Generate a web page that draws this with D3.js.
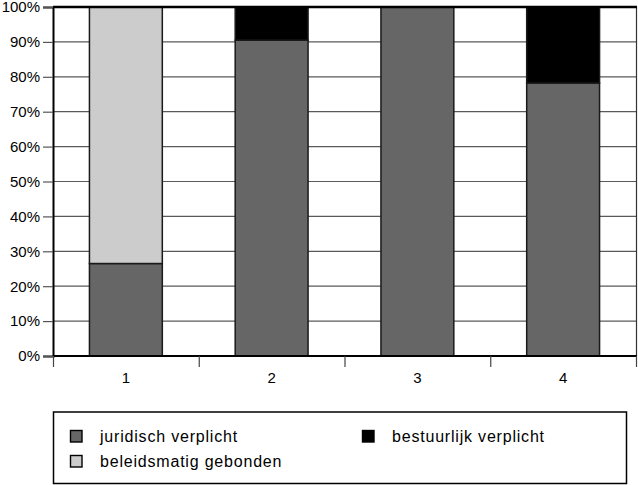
<!DOCTYPE html>
<html>
<head>
<meta charset="utf-8">
<script src="https://cdn.jsdelivr.net/npm/d3@7"></script>
<style>
  body { margin: 0; background: #fff; }
  text { font-family: "Liberation Sans", Arial, sans-serif; }
</style>
</head>
<body>
<div id="chart"></div>
<script>
// chart size and plot margins
const width = 638;
const height = 485;
const margin = {left: 53, right: 2, top: 7, bottom: 129};

// data (percent of each bar)
const categories = ["1", "2", "3", "4"];
const juridisch = [26.5, 90.5, 100, 78.2];
const beleidsmatig = [73.5, 0, 0, 0];
const bestuurlijk = [0, 9.5, 0, 21.8];
const yTicks = [0, 10, 20, 30, 40, 50, 60, 70, 80, 90, 100];

const seriesNames = ["juridisch verplicht", "beleidsmatig gebonden", "bestuurlijk verplicht"];
const seriesColors = ["#666666", "#cccccc", "#000000"];

const svg = d3.select("#chart")
  .append("svg")
  .attr("width", width)
  .attr("height", height);

// scales
const xScale = d3.scaleBand()
  .domain(categories)
  .range([margin.left, width - margin.right])
  .paddingInner(0.5)
  .paddingOuter(0.25);

const xOuter = d3.scaleBand()
  .domain(categories)
  .range([margin.left, width - margin.right]);

const yScale = d3.scaleLinear()
  .domain([0, 100])
  .range([height - margin.bottom, margin.top]);

// gridlines
svg.append("g")
  .selectAll("line")
  .data(yTicks.slice(1, -1))
  .join("line")
    .attr("x1", margin.left)
    .attr("x2", width - margin.right)
    .attr("y1", d => yScale(d))
    .attr("y2", d => yScale(d))
    .attr("stroke", "#5a5a5a")
    .attr("stroke-width", 1.2);

// right border of the plot
svg.append("line")
  .attr("x1", width - margin.right + 0.5)
  .attr("x2", width - margin.right + 0.5)
  .attr("y1", margin.top)
  .attr("y2", height - margin.bottom)
  .attr("stroke", "#333")
  .attr("stroke-width", 1.2);

// stacked bars
const stackData = categories.map((c, i) => ({
  cat: c, j: juridisch[i], b: beleidsmatig[i], s: bestuurlijk[i]
}));
const stack = d3.stack().keys(["j", "b", "s"]);
const layers = stack(stackData);

svg.append("g")
  .selectAll("g")
  .data(layers)
  .join("g")
    .attr("fill", (d, i) => seriesColors[i])
  .selectAll("rect")
  .data(d => d.filter(p => p[1] - p[0] > 0))
  .join("rect")
    .attr("x", d => xScale(d.data.cat))
    .attr("y", d => yScale(d[1]))
    .attr("width", xScale.bandwidth())
    .attr("height", d => yScale(d[0]) - yScale(d[1]))
    .attr("stroke", "#1a1a1a")
    .attr("stroke-width", 1.5);

// top line
svg.append("line")
  .attr("x1", margin.left)
  .attr("x2", width - margin.right + 1)
  .attr("y1", margin.top)
  .attr("y2", margin.top)
  .attr("stroke", "#000")
  .attr("stroke-width", 2.5);

// y axis
const yAxis = svg.append("g")
  .attr("transform", `translate(${margin.left}, 0)`)
  .call(d3.axisLeft(yScale).tickValues(yTicks).tickFormat(d => d + "%").tickSize(10).tickPadding(3));
yAxis.select(".domain").attr("stroke-width", 2);
yAxis.selectAll(".tick line").attr("stroke", "#555").attr("stroke-width", 1.2);
yAxis.selectAll("text").attr("font-size", "15px").attr("fill", "#000")
  .attr("font-family", "'Liberation Sans', Arial, sans-serif");

// x axis: ticks at the category borders
const xBottom = height - margin.bottom;
svg.append("line")
  .attr("x1", margin.left)
  .attr("x2", width - margin.right + 1)
  .attr("y1", xBottom)
  .attr("y2", xBottom)
  .attr("stroke", "#000")
  .attr("stroke-width", 2);

const borders = categories.map(c => xOuter(c)).concat([width - margin.right]);
svg.append("g")
  .selectAll("line")
  .data(borders)
  .join("line")
    .attr("x1", d => d + 0.5)
    .attr("x2", d => d + 0.5)
    .attr("y1", xBottom)
    .attr("y2", xBottom + 11)
    .attr("stroke", "#444")
    .attr("stroke-width", 1.2);

svg.append("g")
  .selectAll("text")
  .data(categories)
  .join("text")
    .attr("x", d => xOuter(d) + xOuter.bandwidth() / 2)
    .attr("y", xBottom + 27)
    .attr("text-anchor", "middle")
    .attr("font-size", "15px")
    .text(d => d);

// legend
const legend = svg.append("g");
legend.append("rect")
  .attr("x", 53.5)
  .attr("y", 412)
  .attr("width", 573)
  .attr("height", 71.5)
  .attr("fill", "none")
  .attr("stroke", "#000")
  .attr("stroke-width", 1.5);

const legendPos = [[70, 430], [70, 455], [362, 430]];
const items = legend.selectAll("g.item")
  .data(seriesNames)
  .join("g")
    .attr("class", "item")
    .attr("transform", (d, i) => `translate(${legendPos[i][0]}, ${legendPos[i][1]})`);

items.append("rect")
  .attr("x", 0.5)
  .attr("y", 0.5)
  .attr("width", 11.5)
  .attr("height", 11.5)
  .attr("fill", (d, i) => seriesColors[i])
  .attr("stroke", "#000")
  .attr("stroke-width", 1.4);

items.append("text")
  .attr("x", 30)
  .attr("y", 12)
  .attr("font-size", "16px")
  .attr("letter-spacing", "0.8px")
  .text(d => d);
</script>
</body>
</html>
